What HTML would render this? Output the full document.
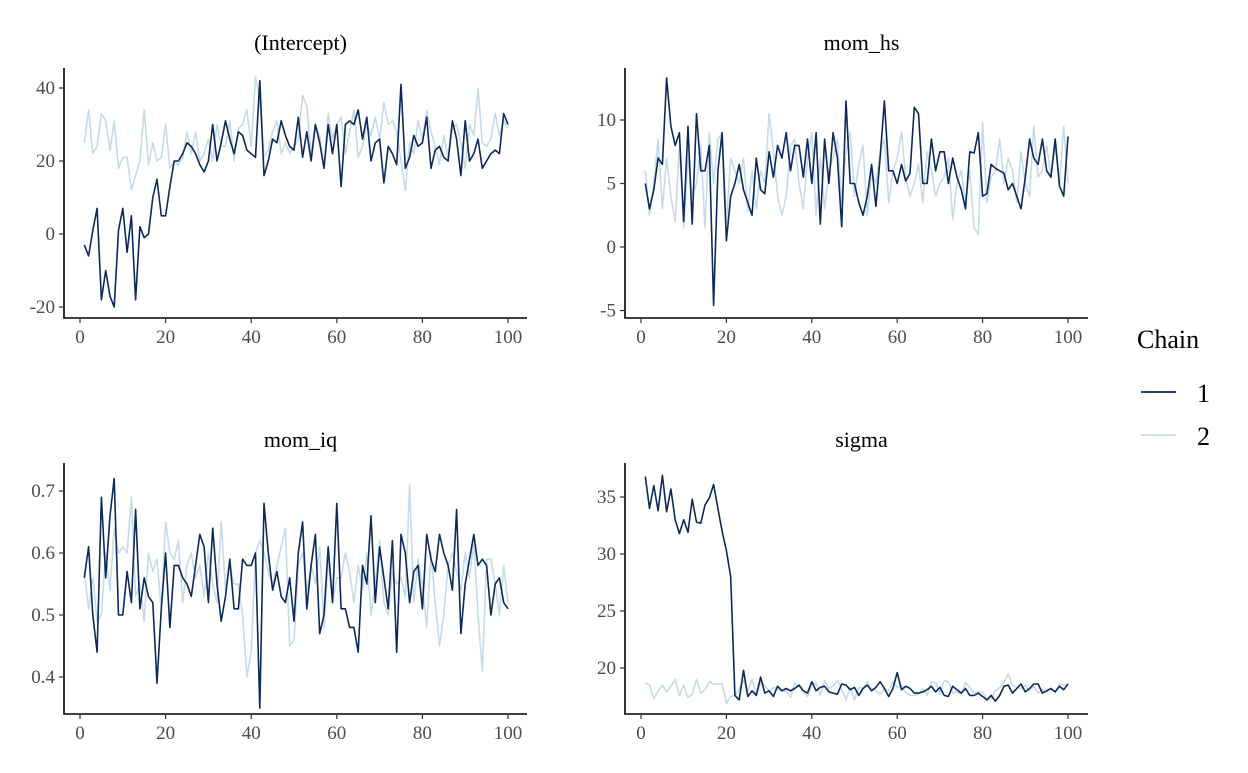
<!DOCTYPE html>
<html><head><meta charset="utf-8"><style>
body{margin:0;background:#fff}
svg text{font-family:"Liberation Serif",serif}
</style></head><body>
<svg id="chart" width="1248" height="768" viewBox="0 0 1248 768"></svg>
<script>
const iterations = Array.from({length:100},(_,i)=>i+1);
const interceptChain1 = [-3,-6,1,7,-18,-10,-17,-20,1,7,-5,5,-18,2,-1,0,10,15,5,5,13,20,20,22,25,24,22,19,17,20,30,20,25,31,26,22,28,27,23,22,21,42,16,20,26,25,31,27,24,23,32,21,28,20,30,25,18,30,22,30,13,30,31,30,34,26,32,20,25,26,14,24,22,19,41,18,21,27,24,25,32,18,23,24,21,20,31,26,16,31,20,22,26,18,20,22,23,22,33,30];
const interceptChain2 = [25,34,22,24,33,31,23,31,18,21,21,12,16,20,34,19,25,20,21,30,18,20,19,21,28,22,28,20,22,26,20,30,24,24,31,20,29,30,34,24,43,37,21,23,28,31,22,25,22,24,26,38,35,22,30,27,18,33,26,30,32,22,28,34,21,24,30,27,32,26,36,30,31,28,20,12,25,22,31,26,34,28,24,19,27,21,29,30,25,18,30,27,40,25,24,26,33,27,31,29];
const momhsChain1 = [5,3,4.5,7,6.5,13.3,9.5,8,9,2,9.5,1.8,10.5,6,6,8,-4.6,6,9,0.5,4,5,6.5,4.5,3.5,2.5,7,4.5,4.2,7.5,5.5,8,7,9,6,8,8,5.5,8.5,5,9,1.8,8.5,5,9,7,1.6,11.5,5,5,3.5,2.5,4,6.5,3.2,7,11.5,6,6,5,6.5,5.2,5.8,11,10.5,5,5,8.5,6,7.5,7.5,5,7,5.5,4.5,3,7.5,7.4,9,4,4.2,6.5,6.2,6,5.8,4.5,5,4,3,5.5,8.5,7,6.5,8.5,6,5.5,8.5,4.8,4,8.7];
const momhsChain2 = [6,2.5,5,8.5,3,7,4,2,8,1.5,7,4,5,8,1.5,9,5,8.5,9,2,7,6,5,7,2.8,6,3,6,5,10.5,7.5,4,2.5,4,8,8.5,5,3,7,9,2.5,7,3,6,7,8.5,3.5,7.5,9,4,6.5,8,2.5,6,5,7.5,8.5,3.5,6,7,9,5.5,4,5,6.5,3.5,7.5,6,4,5,5.5,7,2.2,5,6,3.5,6,1.5,1,9.8,3.5,5.5,6,8.5,5,7,6,3.5,7.5,5,4,9.5,5.5,6,8,5.5,8,5,9.5,5];
const momiqChain1 = [0.56,0.61,0.5,0.44,0.69,0.56,0.66,0.72,0.5,0.5,0.57,0.52,0.67,0.51,0.56,0.53,0.52,0.39,0.51,0.6,0.48,0.58,0.58,0.56,0.55,0.53,0.58,0.63,0.61,0.52,0.64,0.55,0.49,0.53,0.59,0.51,0.51,0.59,0.58,0.58,0.6,0.35,0.68,0.6,0.54,0.57,0.53,0.52,0.56,0.49,0.6,0.65,0.51,0.58,0.63,0.47,0.5,0.61,0.52,0.68,0.51,0.51,0.48,0.48,0.44,0.58,0.55,0.66,0.52,0.61,0.56,0.51,0.62,0.44,0.63,0.6,0.52,0.57,0.58,0.51,0.63,0.59,0.57,0.63,0.6,0.58,0.54,0.67,0.47,0.55,0.59,0.63,0.58,0.59,0.58,0.5,0.55,0.56,0.52,0.51];
const momiqChain2 = [0.57,0.51,0.56,0.49,0.5,0.6,0.54,0.64,0.6,0.61,0.6,0.69,0.53,0.55,0.49,0.6,0.57,0.59,0.51,0.65,0.6,0.59,0.62,0.52,0.58,0.6,0.56,0.58,0.53,0.6,0.55,0.52,0.65,0.54,0.58,0.55,0.55,0.5,0.4,0.44,0.6,0.62,0.6,0.57,0.55,0.58,0.61,0.64,0.45,0.46,0.58,0.6,0.54,0.58,0.55,0.61,0.48,0.59,0.52,0.56,0.56,0.6,0.57,0.52,0.58,0.54,0.6,0.5,0.55,0.62,0.52,0.5,0.57,0.55,0.56,0.53,0.71,0.52,0.59,0.55,0.48,0.6,0.52,0.45,0.5,0.58,0.6,0.57,0.54,0.6,0.56,0.62,0.5,0.41,0.59,0.59,0.55,0.5,0.58,0.52];
const sigmaChain1 = [36.8,34,36,33.8,36.9,33.7,35.7,33,31.8,33,31.9,34.8,32.8,32.7,34.3,34.9,36.1,34,32,30.3,28,17.6,17.2,19.8,17.5,18,17.6,19.2,17.8,18,17.5,18.4,18,18.2,18,18.2,18.5,18,17.8,18.8,18,18.3,18.4,17.9,17.8,17.7,18.6,18.5,18.1,18.3,17.6,18.2,18.5,18,18.3,18.8,18.2,17.5,18.2,19.6,18.1,18.4,18.2,17.8,17.8,17.9,18.1,18.4,17.9,18.3,17.6,17.5,18.4,18.1,17.8,18.2,17.6,17.6,17.8,17.5,17.2,17.6,17.1,17.6,18.4,18.5,17.8,18.2,18.6,17.9,18.2,18.6,18.6,17.8,18,18.2,17.9,18.4,18.1,18.6];
const sigmaChain2 = [18.7,18.5,17.3,18,18.5,17.9,18.4,19,17.6,18.5,17.4,17.7,19,17.8,18.1,18.8,18.6,18.6,18.6,16.9,17.5,17.6,18.2,18.9,18,19,17.6,18.7,18.5,17.9,18.3,18.2,18,18,17.4,18.7,18.4,17.9,17.5,18.5,18.7,17.6,18.9,18.2,18.4,18.9,18.2,17.2,18.3,17.2,18.3,18.2,18.8,18.2,18,17.7,18.2,18,18.8,18.3,18.4,17.9,17.6,17.6,17.7,18.2,17.6,18.8,18.7,17.7,18.9,18.8,17.8,17.9,17.7,18.7,18.3,17.8,17.9,17.9,17.2,17.3,18,18.3,18.7,19.5,18.5,18.3,18.2,18.5,18,18.4,17.8,18.1,17.9,18.2,17.9,18.6,18.5,18.6];
const xTicks = [0,20,40,60,80,100];
const interceptTicks = [-20,0,20,40];
const momhsTicks = [-5,0,5,10];
const momiqTicks = [0.4,0.5,0.6,0.7];
const sigmaTicks = [20,25,30,35];

const NS="http://www.w3.org/2000/svg";
const svg=document.getElementById('chart');
function mk(tag,attrs,parent){const e=document.createElementNS(NS,tag);for(const k in attrs)e.setAttribute(k,attrs[k]);(parent||svg).appendChild(e);return e;}

const panels=[
 {name:'intercept',title:'(Intercept)',left:64,right:527,top:68,bottom:318,titleY:50,x0:80,x100:508,ticks:interceptTicks,v0:0,p0:234,v1:20,p1:161,c1:interceptChain1,c2:interceptChain2,fmt:v=>String(v)},
 {name:'mom-hs',title:'mom_hs',left:625,right:1088,top:68,bottom:318,titleY:50,x0:641,x100:1068,ticks:momhsTicks,v0:0,p0:247,v1:10,p1:120,c1:momhsChain1,c2:momhsChain2,fmt:v=>String(v)},
 {name:'mom-iq',title:'mom_iq',left:64,right:527,top:463,bottom:714,titleY:447,x0:80,x100:508,ticks:momiqTicks,v0:0.5,p0:615,v1:0.6,p1:553,c1:momiqChain1,c2:momiqChain2,fmt:v=>v.toFixed(1)},
 {name:'sigma',title:'sigma',left:625,right:1088,top:463,bottom:714,titleY:447,x0:641,x100:1068,ticks:sigmaTicks,v0:20,p0:668,v1:30,p1:554,c1:sigmaChain1,c2:sigmaChain2,fmt:v=>String(v)}
];
panels.forEach(p=>{
 const g=mk('g',{});
 
 
 const xs=i=>p.x0+(p.x100-p.x0)*i/100;
 const ys=v=>p.p0+(v-p.v0)*(p.p1-p.p0)/(p.v1-p.v0);
 const t=mk('text',{x:(p.left+p.right)/2+5,y:p.titleY,'text-anchor':'middle','font-size':22,fill:'#000'},g);
 t.textContent=p.title;
 
 
 [[p.c2,'#c6dbe9'],[p.c1,'#0b2a5b']].forEach(([arr,col],k)=>{
  const pts=arr.map((v,i)=>xs(iterations[i]).toFixed(1)+','+ys(v).toFixed(1)).join(' ');
  const pl=mk('polyline',{points:pts,fill:'none',stroke:col,'stroke-width':1.6,'stroke-linejoin':'round'},g);
  
  
 });
 const ax=mk('path',{d:`M${p.left},${p.top}V${p.bottom}H${p.right}`,fill:'none',stroke:'#000','stroke-width':1.6},g);
 
 
 xTicks.forEach(v=>{
  mk('line',{x1:xs(v),x2:xs(v),y1:p.bottom,y2:p.bottom+5,stroke:'#333','stroke-width':1.2},g);
  const tx=mk('text',{x:xs(v),y:p.bottom+25,'text-anchor':'middle','font-size':19,fill:'#4d4d4d'},g);
  tx.textContent=v;
  
  
 });
 p.ticks.forEach(v=>{
  mk('line',{x1:p.left-5,x2:p.left,y1:ys(v),y2:ys(v),stroke:'#333','stroke-width':1.2},g);
  const ty=mk('text',{x:p.left-9,y:ys(v)+6,'text-anchor':'end','font-size':19,fill:'#4d4d4d'},g);
  ty.textContent=p.fmt(v);
  
  
 });
});
const lg=mk('g',{});


const lt=mk('text',{x:1137,y:348,'font-size':26,fill:'#000'},lg);
lt.textContent='Chain';


[['1','#0b2a5b',392],['2','#c6dbe9',435]].forEach(([lab,col,y])=>{
 const ln=mk('line',{x1:1141,x2:1176,y1:y,y2:y,stroke:col,'stroke-width':1.8},lg);
 
 
 const tx=mk('text',{x:1197,y:y+10,'font-size':26,fill:'#000'},lg);
 tx.textContent=lab;
 
 
});
</script>
</body></html>
